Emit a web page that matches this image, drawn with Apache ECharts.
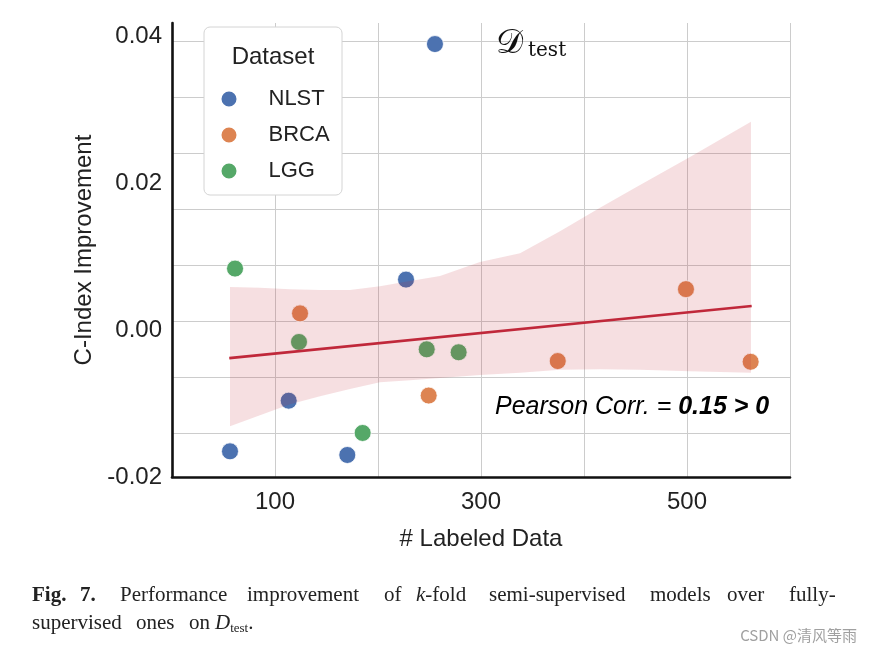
<!DOCTYPE html>
<html>
<head>
<meta charset="utf-8">
<script src="https://cdn.jsdelivr.net/npm/echarts@6/dist/echarts.min.js"></script>
<style>html,body{margin:0;padding:0;background:#fff;}#c{width:873px;height:658px;}</style>
</head>
<body>
<div id="c"></div>
<script>
// ---- data ----
const seriesNames = ['NLST', 'BRCA', 'LGG'];
const nlstX = [255.3, 227.2, 113.3, 56.3, 170.2];
const nlstY = [0.0390, 0.0069, -0.0096, -0.0165, -0.0170];
const brcaX = [124.3, 249.2, 374.5, 499.0, 561.8];
const brcaY = [0.0023, -0.0089, -0.0042, 0.0056, -0.0043];
const lggX = [61.2, 123.3, 185.1, 247.3, 278.3];
const lggY = [0.0084, -0.0016, -0.0140, -0.0026, -0.0030];
const fitX = [55.6, 562.8];
const fitY = [-0.0038, 0.0033];
const bandX = [56.3, 85.4, 114.6, 143.7, 172.8, 201.9, 231.1, 260.2, 299.0, 337.9, 376.7, 415.5, 454.4, 502.9, 562.1];
const bandUpper = [0.0059, 0.0058, 0.0056, 0.0055, 0.0055, 0.0060, 0.0067, 0.0074, 0.0093, 0.0105, 0.0135, 0.0167, 0.0198, 0.0236, 0.0284];
const bandLower = [-0.0131, -0.0116, -0.0101, -0.0090, -0.0080, -0.0071, -0.0068, -0.0065, -0.0061, -0.0058, -0.0054, -0.0053, -0.0054, -0.0056, -0.0058];
const xTickValues = [100, 300, 500];
const xTickLabels = ['100', '300', '500'];
const yTickValues = [-0.02, 0.00, 0.02, 0.04];
const yTickLabels = ['-0.02', '0.00', '0.02', '0.04'];

const colors = ['#4c72b0', '#dd8452', '#55a868'];
const sans = '"Liberation Sans", Arial, sans-serif';
const serif = '"Liberation Serif", "Times New Roman", serif';

function pairs(xs, ys) { return xs.map((x, i) => [x, ys[i]]); }

const chart = echarts.init(document.getElementById('c'), null, {renderer: 'canvas'});

function scatter(name, xs, ys, color) {
  return {
    name: name, type: 'scatter', xAxisIndex: 0, yAxisIndex: 0,
    data: pairs(xs, ys), symbolSize: 17, z: 2,
    itemStyle: {color: color, borderColor: '#ffffff', borderWidth: 0.8, opacity: 1},
    emphasis: {disabled: true}
  };
}

// caption words [text, x, line]
const capWords = [
  ['{b|Fig.}', 32, 0], ['{b|7.}', 80, 0], ['Performance', 120, 0], ['improvement', 247, 0],
  ['of', 384, 0], ['{i|k}-fold', 416, 0], ['semi-supervised', 489, 0], ['models', 650, 0],
  ['over', 727, 0], ['fully-', 789, 0],
  ['supervised', 32, 1], ['ones', 136, 1], ['on', 189, 1], ['{i|D}{s|test}.', 215, 1]
];
const capRich = {
  b: {fontFamily: serif, fontSize: 21, fontWeight: 'bold', color: '#222'},
  i: {fontFamily: serif, fontSize: 21, fontStyle: 'italic', color: '#222'},
  s: {fontFamily: serif, fontSize: 13, color: '#222', padding: [10, 0, 0, 0]}
};
const capGraphics = capWords.map(w => ({
  type: 'text', left: w[1], top: w[2] === 0 ? 585 : 613, z: 10,
  style: {text: w[0], fontFamily: serif, fontSize: 21, fill: '#222', rich: capRich}
}));

const option = {
  backgroundColor: '#ffffff',
  animation: false,
  grid: [
    {left: 172, right: 83, top: 23, bottom: 181, containLabel: false},
    {left: 172, right: 83, top: 41, bottom: 224.7, containLabel: false}
  ],
  xAxis: [
    {
      type: 'value', gridIndex: 0, min: 0, max: 600, interval: 100,
      axisLine: {show: true, onZero: false, lineStyle: {color: '#111', width: 2.6}},
      axisTick: {show: false},
      splitLine: {show: true, lineStyle: {color: '#cccccc', width: 1}},
      axisLabel: {
        margin: 13, fontSize: 24, fontFamily: sans, color: '#222',
        formatter: v => { const i = xTickValues.indexOf(Math.round(v)); return i >= 0 ? xTickLabels[i] : ''; }
      },
      name: '# Labeled Data', nameLocation: 'middle', nameGap: 50,
      nameTextStyle: {fontSize: 24, fontFamily: sans, color: '#222'}
    },
    {type: 'value', gridIndex: 1, min: 0, max: 600, show: false}
  ],
  yAxis: [
    {
      type: 'value', gridIndex: 0, min: -0.02, max: 0.04187, interval: 0.02,
      axisLine: {show: true, onZero: false, lineStyle: {color: '#111', width: 2.6}},
      axisTick: {show: false},
      splitLine: {show: false},
      axisLabel: {
        margin: 10, fontSize: 24, fontFamily: sans, color: '#222',
        formatter: v => { for (let i = 0; i < yTickValues.length; i++) if (Math.abs(v - yTickValues[i]) < 1e-6) return yTickLabels[i]; return ''; }
      },
      name: 'C-Index Improvement', nameLocation: 'middle', nameGap: 65, nameRotate: 90,
      nameTextStyle: {fontSize: 24, fontFamily: sans, color: '#222'}
    },
    {
      type: 'value', gridIndex: 1, min: 0, max: 7, interval: 1,
      axisLine: {show: false}, axisTick: {show: false}, axisLabel: {show: false},
      splitLine: {show: true, lineStyle: {color: '#cccccc', width: 1}}
    }
  ],
  legend: {
    data: seriesNames, orient: 'vertical', left: 219.5, top: 88,
    itemWidth: 17, itemHeight: 17, itemGap: 14, icon: 'circle', padding: 0, z: 10,
    textStyle: {fontSize: 22, fontFamily: sans, color: '#222', padding: [0, 0, 0, 26], lineHeight: 17},
    selectedMode: false
  },
  graphic: [
    {type: 'rect', shape: {x: 204, y: 27, width: 138, height: 168, r: 6}, z: 8,
     style: {fill: '#ffffff', stroke: '#d4d4d4', lineWidth: 1}},
    {type: 'text', x: 273, y: 57, z: 9,
     style: {text: 'Dataset', fontSize: 24, fontFamily: sans, fill: '#222', textAlign: 'center', textVerticalAlign: 'middle'}},
    {type: 'text', x: 496, y: 44, z: 9,
     style: {text: '\uD835\uDC9F', fontSize: 34, fontFamily: '"DejaVu Serif", "DejaVu Sans", serif', fill: '#111', textVerticalAlign: 'middle'}},
    {type: 'text', x: 528, y: 51, z: 9,
     style: {text: 'test', fontSize: 20, fontFamily: '"DejaVu Serif", serif', fill: '#111', textVerticalAlign: 'middle'}},
    {type: 'text', x: 495, y: 407, z: 9,
     style: {
       text: '{a|Pearson Corr. = }{b|0.15 > 0}', textVerticalAlign: 'middle',
       rich: {
         a: {fontSize: 25, fontFamily: sans, fontStyle: 'italic', color: '#111'},
         b: {fontSize: 25, fontFamily: sans, fontStyle: 'italic', fontWeight: 'bold', color: '#111'}
       }
     }},
    {type: 'text', right: 16, top: 628, z: 10,
     style: {text: 'CSDN @清风等雨', fontSize: 15, fontFamily: '"Noto Sans CJK SC", sans-serif', fill: '#a0a0a0'}}
  ].concat(capGraphics),
  series: [
    scatter('NLST', nlstX, nlstY, colors[0]),
    scatter('BRCA', brcaX, brcaY, colors[1]),
    scatter('LGG', lggX, lggY, colors[2]),
    {
      name: 'CI', type: 'custom', xAxisIndex: 0, yAxisIndex: 0, z: 3, silent: true,
      data: bandX.map((x, i) => [x, bandUpper[i], bandLower[i]]),
      renderItem: function (params, api) {
        if (params.dataIndex !== 0) return null;
        const pts = [];
        for (let i = 0; i < bandX.length; i++) pts.push(api.coord([bandX[i], bandUpper[i]]));
        for (let i = bandX.length - 1; i >= 0; i--) pts.push(api.coord([bandX[i], bandLower[i]]));
        return {type: 'polygon', shape: {points: pts}, style: {fill: 'rgba(196,40,55,0.15)'}};
      }
    },
    {
      name: 'Fit', type: 'line', xAxisIndex: 0, yAxisIndex: 0, z: 4,
      data: pairs(fitX, fitY), showSymbol: false, symbol: 'none', silent: true,
      lineStyle: {color: '#c0283a', width: 2.6}
    }
  ]
};
chart.setOption(option);
</script>
</body>
</html>
